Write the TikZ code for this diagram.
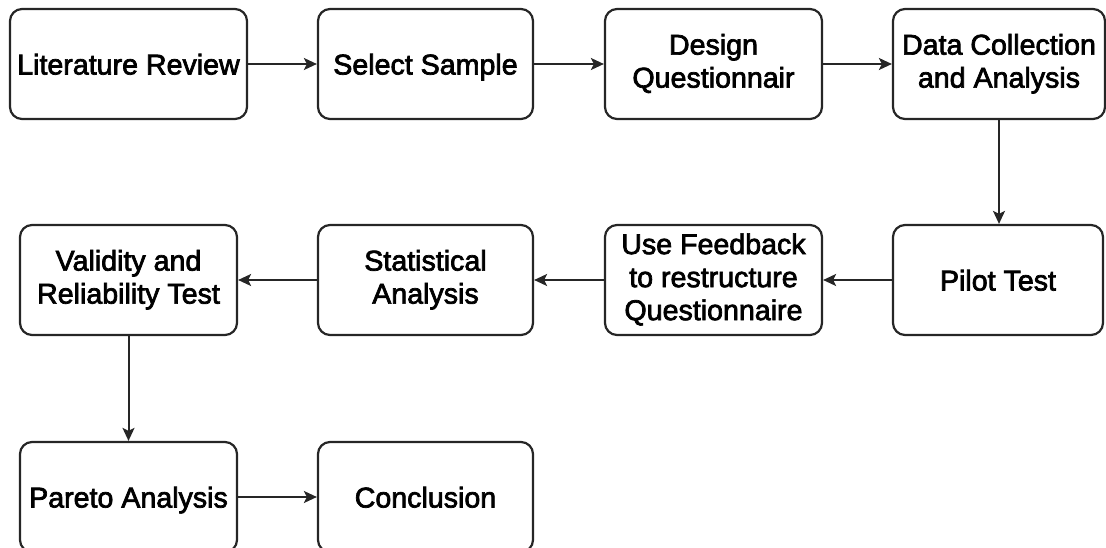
\documentclass[tikz,border=0pt]{standalone}
\usepackage{fontspec}
\setmainfont{Liberation Sans}[FakeBold=2.5]
\usetikzlibrary{arrows.meta}
\newcommand{\topstrut}{\rule{0pt}{27.5pt}}
\newcommand{\botstrut}{\rule[-6.5pt]{0pt}{6.5pt}}
\tikzset{
  stepbox/.style={draw=black!85, line width=2.2pt, rounded corners=12pt,
    minimum height=110pt, align=center, inner sep=0pt,
    font=\fontsize{28.6}{33}\selectfont,
    execute at begin node=\topstrut, execute at end node=\botstrut},
  flow/.style={draw=black!85, line width=2pt,
    -{Stealth[length=13pt,width=12pt,inset=3pt]}}
}
\begin{document}
\begin{tikzpicture}[x=1pt,y=-1pt]
  \useasboundingbox (0,0) rectangle (1106,548);
  \begin{scope}
  \clip (0,0) rectangle (1106,548);
  % first row
  \node[stepbox, minimum width=237pt] (lit) at (128.5,64) {Literature Review};
  \node[stepbox, minimum width=215pt] (sel) at (425.5,64) {Select Sample};
  \node[stepbox, minimum width=217pt] (des) at (713.5,64) {Design\\Questionnair};
  \node[stepbox, minimum width=212pt] (dat) at (999,64) {Data Collection\\and Analysis};
  % second row
  \node[stepbox, minimum width=217pt] (val) at (128.5,280) {Validity and\\Reliability Test};
  \node[stepbox, minimum width=215pt] (sta) at (425.5,280) {Statistical\\Analysis};
  \node[stepbox, minimum width=217pt] (fee) at (713.5,280) {Use Feedback\\to restructure\\Questionnaire};
  \node[stepbox, minimum width=210pt] (pil) at (998,280) {Pilot Test};
  % third row
  \node[stepbox, minimum width=217pt] (par) at (128.5,497) {Pareto Analysis};
  \node[stepbox, minimum width=215pt] (con) at (425.5,497) {Conclusion};
  % connectors
  \draw[flow] (lit) -- (sel);
  \draw[flow] (sel) -- (des);
  \draw[flow] (des) -- (dat);
  \draw[flow] (dat) -- (dat |- pil.north);
  \draw[flow] (pil) -- (fee);
  \draw[flow] (fee) -- (sta);
  \draw[flow] (sta) -- (val);
  \draw[flow] (val) -- (par);
  \draw[flow] (par) -- (con);
  \end{scope}
\end{tikzpicture}
\end{document}
